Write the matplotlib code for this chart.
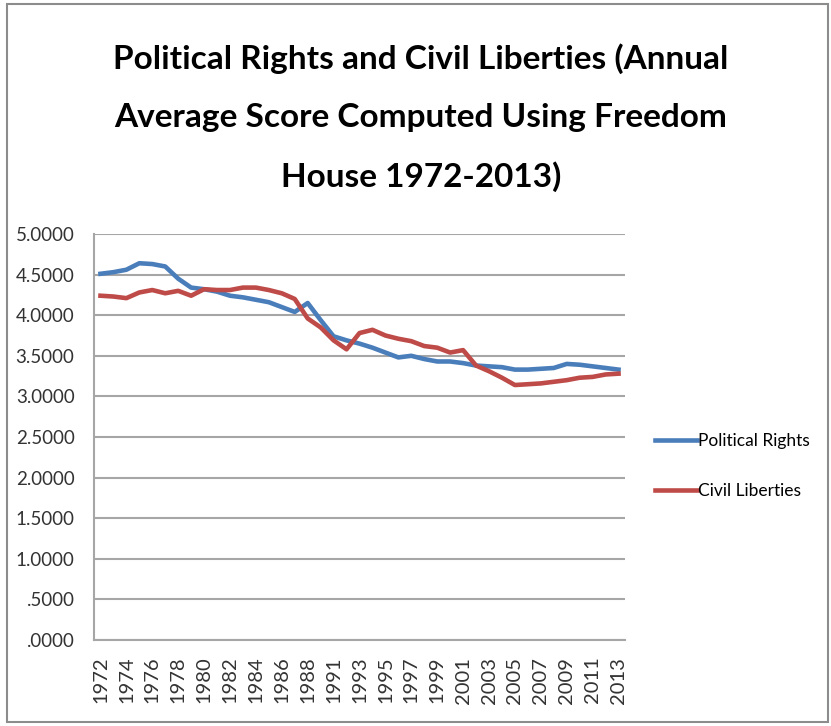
import matplotlib
matplotlib.use('Agg')
import matplotlib.pyplot as plt
from matplotlib.patches import Rectangle
import numpy as np

plt.rcParams['font.family'] = ['Lato', 'DejaVu Sans']

# ------------------------------------------------------------
# data
# ------------------------------------------------------------
years = [str(y) for y in range(1972, 1989)] + ['1989'] + [str(y) for y in range(1991, 2014)]

political_rights = [4.51, 4.53, 4.56, 4.64, 4.63, 4.60, 4.45, 4.34, 4.32, 4.29,
                    4.24, 4.22, 4.19, 4.16, 4.10, 4.04, 4.15, 3.94, 3.74, 3.69,
                    3.65, 3.60, 3.54, 3.48, 3.50, 3.46, 3.43, 3.43, 3.41, 3.38,
                    3.37, 3.36, 3.33, 3.33, 3.34, 3.35, 3.40, 3.39, 3.37, 3.35,
                    3.33]
civil_liberties = [4.24, 4.23, 4.21, 4.28, 4.31, 4.27, 4.30, 4.24, 4.32, 4.31,
                   4.31, 4.34, 4.34, 4.31, 4.27, 4.20, 3.96, 3.85, 3.69, 3.58,
                   3.78, 3.82, 3.75, 3.71, 3.68, 3.62, 3.60, 3.54, 3.57, 3.38,
                   3.31, 3.23, 3.14, 3.15, 3.16, 3.18, 3.20, 3.23, 3.24, 3.27,
                   3.28]

yticks = np.arange(0, 5.01, 0.5)
ytick_labels = [f'{v:.4f}'.lstrip('0') if v < 1 else f'{v:.4f}' for v in yticks]

title_lines = ['Political Rights and Civil Liberties (Annual',
               'Average Score Computed Using Freedom',
               'House 1972-2013)']

blue = '#4A7EBB'
red = '#BE4B48'
grid_col = '#A6A6A6'

# ------------------------------------------------------------
# figure
# ------------------------------------------------------------
W, H = 831, 726
fig = plt.figure(figsize=(W / 100, H / 100), dpi=100)
fig.patch.set_facecolor('white')

# thin frame around the whole picture
fig.patches.append(Rectangle((7 / W, 4 / H), (828 - 7) / W, (722 - 4) / H,
                             transform=fig.transFigure, fill=False,
                             edgecolor='#8C8C8C', linewidth=1.5))

ax = fig.add_axes([94 / W, 1 - 640 / H, 531 / W, (640 - 234) / H])

x = np.arange(len(years))
ax.plot(x, political_rights, color=blue, lw=3.3, label='Political Rights',
        solid_joinstyle='round', zorder=3)
ax.plot(x, civil_liberties, color=red, lw=3.3, label='Civil Liberties',
        solid_joinstyle='round', zorder=3)

ax.set_xlim(-0.5, len(years) - 0.5)
ax.set_ylim(0, 5)
ax.set_yticks(yticks)
ax.set_yticklabels(ytick_labels, fontsize=13.5, color='#333333')
ax.set_xticks(x[::2])
ax.set_xticklabels(years[::2], rotation=90, fontsize=14.5, color='#333333')
ax.tick_params(axis='y', length=0, pad=14)
ax.tick_params(axis='x', length=0, pad=12)

ax.yaxis.grid(True, color=grid_col, linewidth=1.5)
ax.set_axisbelow(True)
for s in ['top', 'right']:
    ax.spines[s].set_visible(False)
ax.spines['left'].set_color(grid_col)
ax.spines['left'].set_linewidth(1.5)
ax.spines['bottom'].set_color(grid_col)
ax.spines['bottom'].set_linewidth(1.5)

fig.legend(loc='center left', bbox_to_anchor=(655 / W, 1 - 466 / H),
           frameon=False, fontsize=12.5, handlelength=2.4, handletextpad=0.1,
           labelspacing=2.0, borderpad=0, borderaxespad=0)

# title, one text per line (baselines)
for line, base in zip(title_lines, [69, 127, 187]):
    fig.text(421 / W, 1 - base / H, line, ha='center', va='baseline',
             fontsize=24, fontweight='bold', color='black')

fig.savefig('out.png', dpi=100, facecolor='white')
